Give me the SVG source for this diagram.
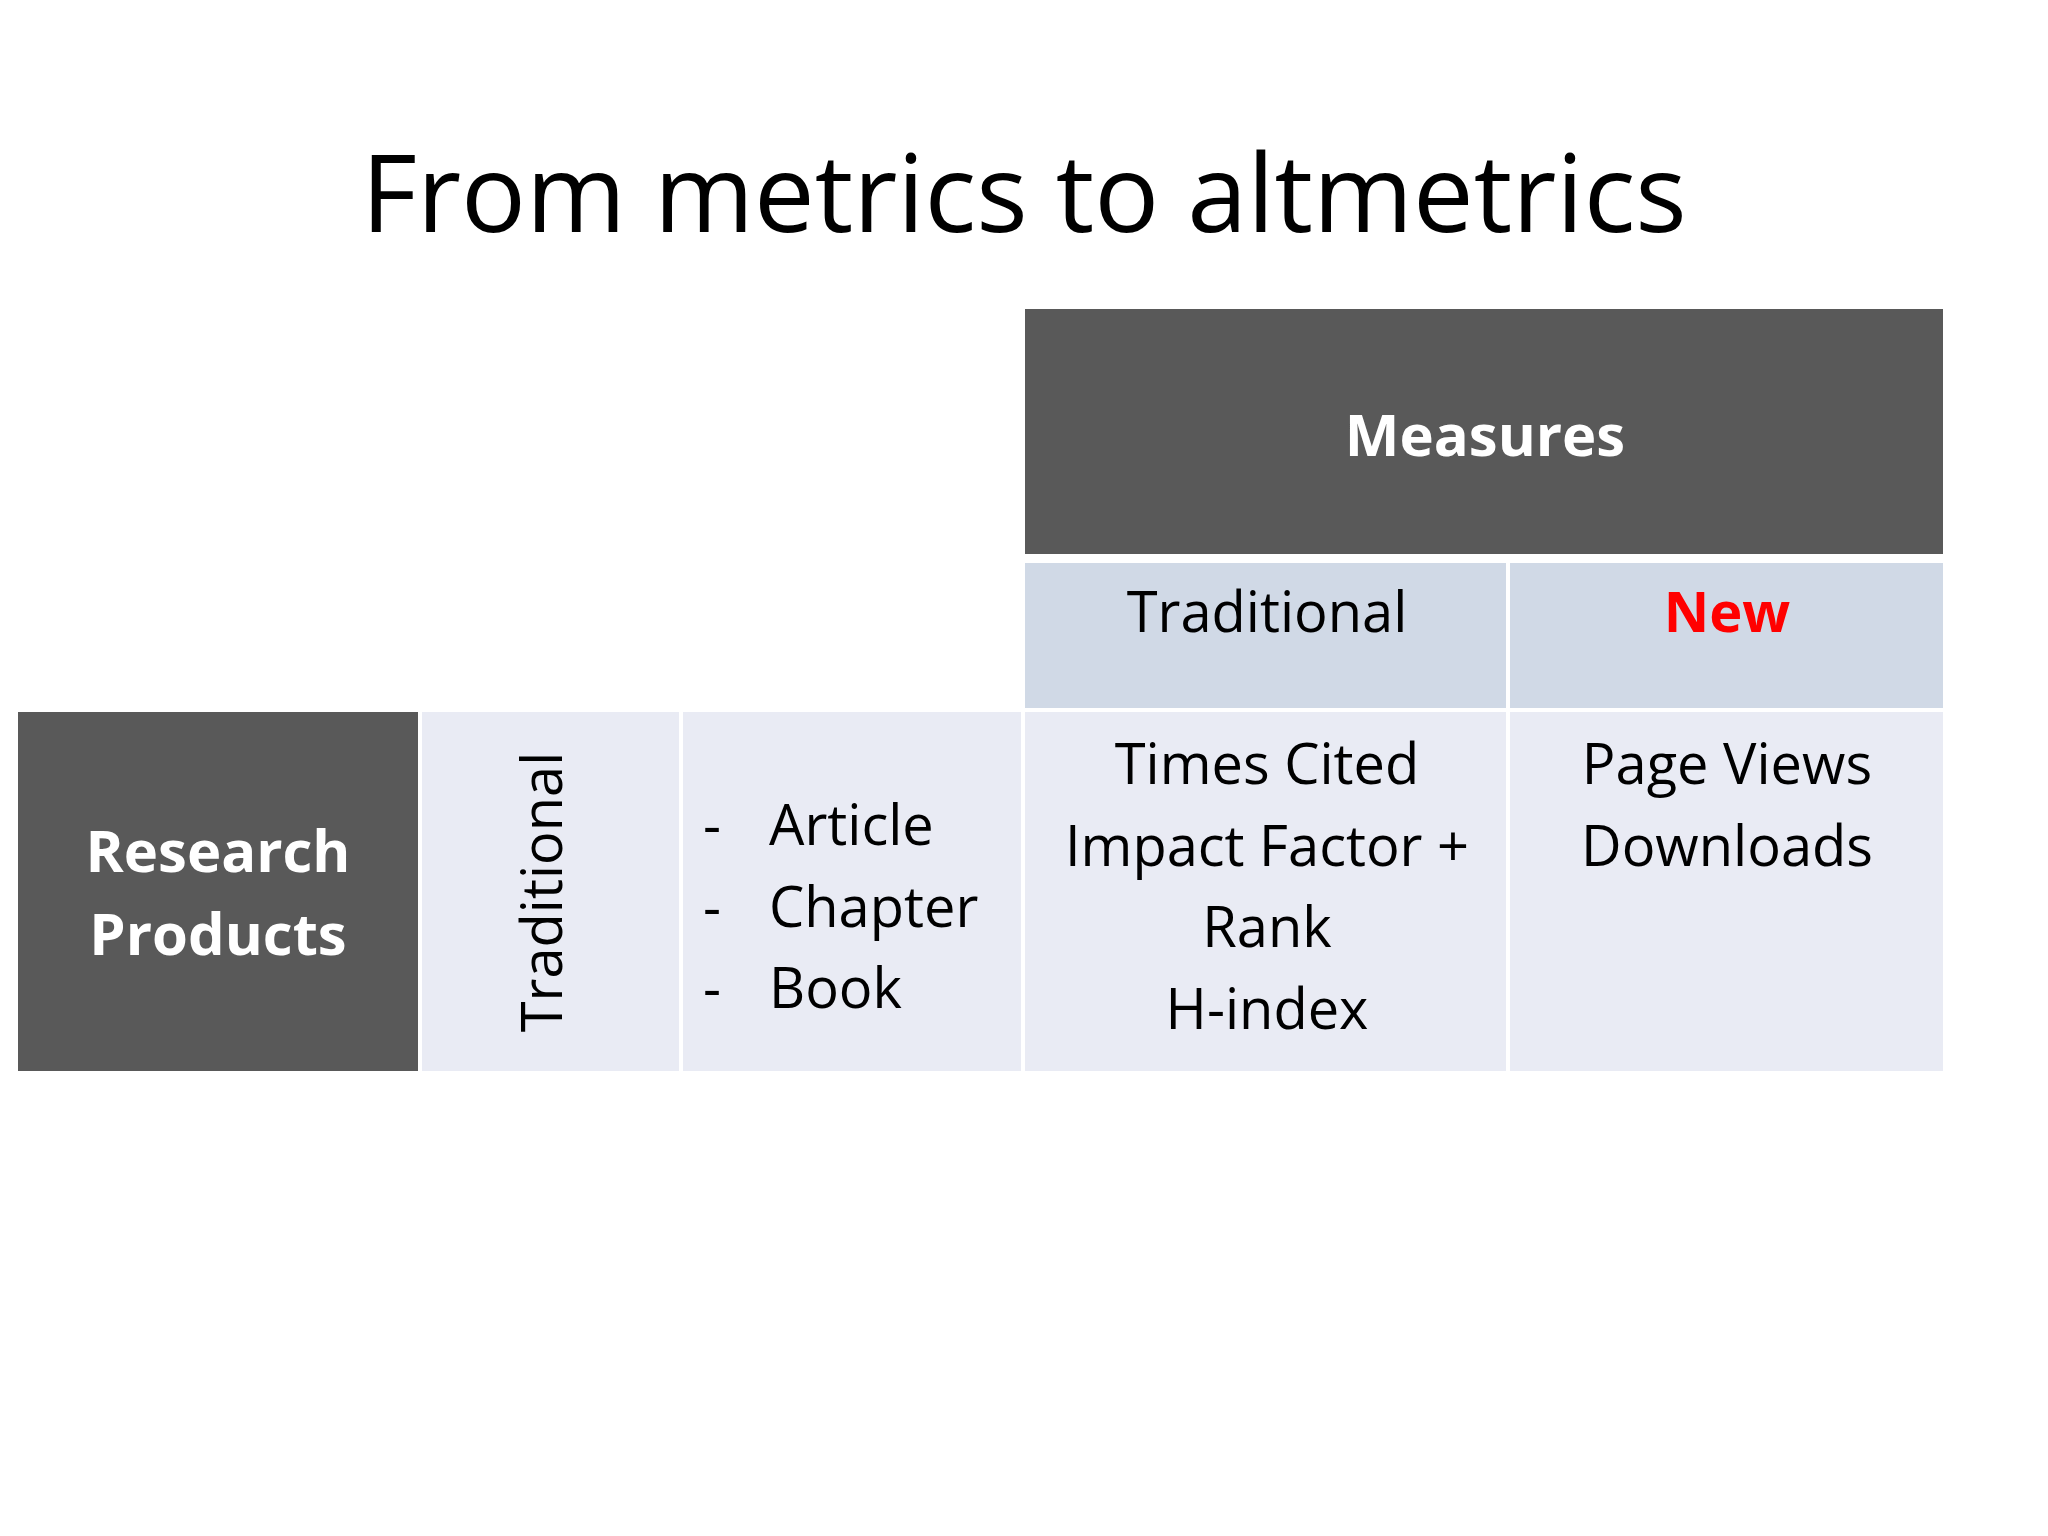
<svg xmlns="http://www.w3.org/2000/svg" width="2048" height="1536" viewBox="0 0 2048 1536">
<style>
text{font-family:"Open Sans","Noto Sans","Liberation Sans",sans-serif;fill:#000}
.dark{fill:#595959}
.hdr{fill:#D0D9E6}
.cell{fill:#E9EBF4}
.w{fill:#fff;font-weight:bold;font-size:58px}
.t{font-size:56px}
</style>
<rect width="2048" height="1536" fill="#fff"/>
<text x="1024" y="232" font-size="108" text-anchor="middle">From metrics to altmetrics</text>
<g id="measures"><rect class="dark" x="1025" y="309" width="918" height="245"/><text class="w" x="1485" y="456" text-anchor="middle">Measures</text></g>
<g id="hdr-trad"><rect class="hdr" x="1025" y="563" width="481" height="145"/><text class="t" x="1267" y="632" text-anchor="middle">Traditional</text></g>
<g id="hdr-new"><rect class="hdr" x="1510" y="563" width="433" height="145"/><text class="t" x="1727" y="632" text-anchor="middle" style="fill:#FF0000;font-weight:bold">New</text></g>
<g id="research"><rect class="dark" x="18" y="712" width="400" height="359"/><text class="w" x="218" y="872" text-anchor="middle">Research</text><text class="w" x="218" y="955" text-anchor="middle">Products</text></g>
<g id="row-trad"><rect class="cell" x="422" y="712" width="257" height="359"/><text class="t" transform="translate(562,892) rotate(-90)" text-anchor="middle">Traditional</text></g>
<g id="items"><rect class="cell" x="683" y="712" width="338" height="359"/>
<text class="t" x="703" y="845">-</text><text class="t" x="769" y="845">Article</text>
<text class="t" x="703" y="927">-</text><text class="t" x="769" y="927">Chapter</text>
<text class="t" x="703" y="1008">-</text><text class="t" x="769" y="1008">Book</text></g>
<g id="trad-measures"><rect class="cell" x="1025" y="712" width="481" height="359"/>
<text class="t" x="1267" y="784" text-anchor="middle">Times Cited</text>
<text class="t" x="1267" y="866" text-anchor="middle">Impact Factor +</text>
<text class="t" x="1267" y="947" text-anchor="middle">Rank</text>
<text class="t" x="1267" y="1029" text-anchor="middle">H-index</text></g>
<g id="new-measures"><rect class="cell" x="1510" y="712" width="433" height="359"/>
<text class="t" x="1727" y="784" text-anchor="middle">Page Views</text>
<text class="t" x="1727" y="866" text-anchor="middle">Downloads</text></g>
<g id="connectors"/>
</svg>
